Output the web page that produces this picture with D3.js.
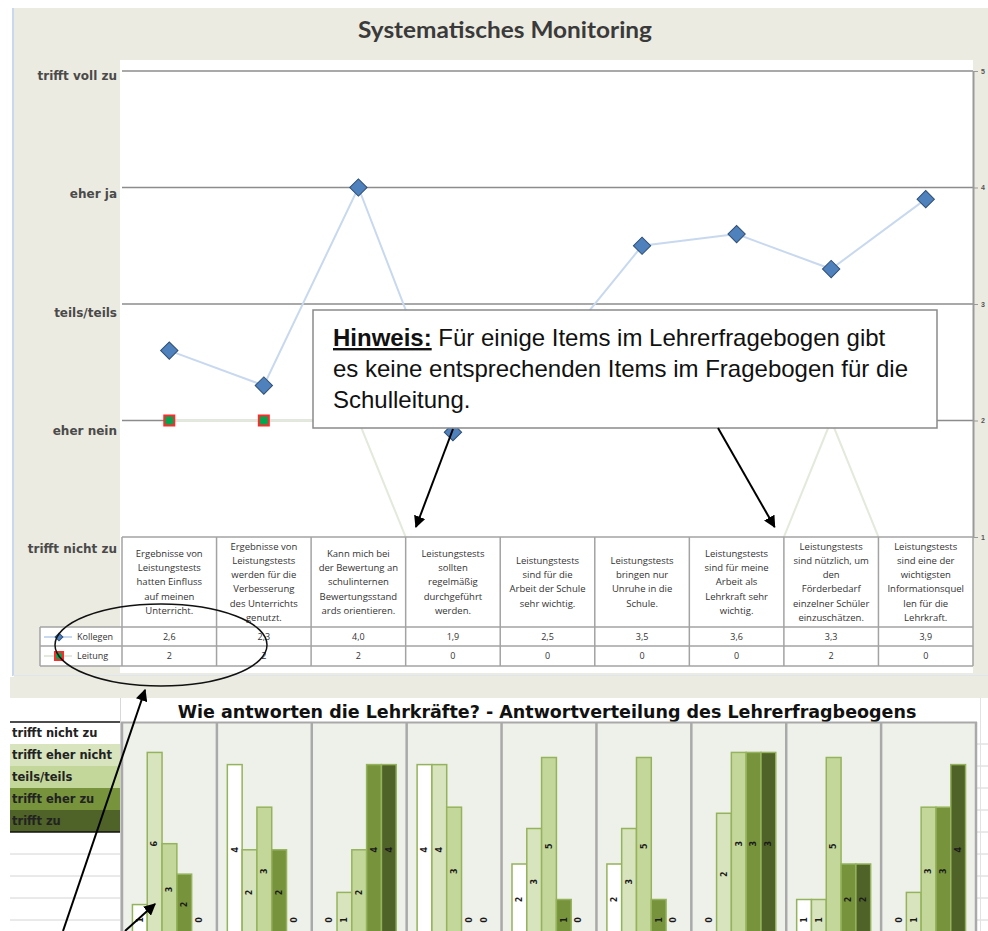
<!DOCTYPE html>
<html>
<head>
<meta charset="utf-8">
<script src="https://cdn.jsdelivr.net/npm/d3@7"></script>
<style>
body{margin:0;background:#fff;}
svg{display:block;}
</style>
</head>
<body>
<div id="chart"></div>
<script>
// ---- data ----
var itemLabels = [
    ["Ergebnisse von", "Leistungstests", "hatten Einfluss", "auf meinen", "Unterricht."],
    ["Ergebnisse von", "Leistungstests", "werden für die", "Verbesserung", "des Unterrichts", "genutzt."],
    ["Kann mich bei", "der Bewertung an", "schulinternen", "Bewertungsstand", "ards orientieren."],
    ["Leistungstests", "sollten", "regelmäßig", "durchgeführt", "werden."],
    ["Leistungstests", "sind für die", "Arbeit der Schule", "sehr wichtig."],
    ["Leistungstests", "bringen nur", "Unruhe in die", "Schule."],
    ["Leistungstests", "sind für meine", "Arbeit als", "Lehrkraft sehr", "wichtig."],
    ["Leistungstests", "sind nützlich, um", "den", "Förderbedarf", "einzelner Schüler", "einzuschätzen."],
    ["Leistungstests", "sind eine der", "wichtigsten", "Informationsquel", "len für die", "Lehrkraft."]
];
var kollegen = [2.6, 2.3, 4.0, 1.9, 2.5, 3.5, 3.6, 3.3, 3.9];
var leitung = [2, 2, 2, 0, 0, 0, 0, 2, 0];
var scaleValues = [1, 2, 3, 4, 5];
var scaleLabels = ["trifft nicht zu", "eher nein", "teils/teils", "eher ja", "trifft voll zu"];

var responseCats = ["trifft nicht zu", "trifft eher nicht", "teils/teils", "trifft eher zu", "trifft zu"];
var responseColors = ["#ffffff", "#d8e4bd", "#c4d79b", "#77933c", "#4f6228"];
var responseCounts = [
    [1, 6, 3, 2, 0],
    [4, 2, 3, 2, 0],
    [0, 1, 2, 4, 4],
    [4, 4, 3, 0, 0],
    [2, 3, 5, 1, 0],
    [2, 3, 5, 1, 0],
    [0, 2, 3, 3, 3],
    [1, 1, 5, 2, 2],
    [0, 1, 3, 3, 4]
];
var panelMax = [7, 5, 5, 5, 6, 6, 3.5, 6, 5];

var deFormat = function(v){ return d3.format(".1f")(v).replace(".", ","); };

// ---- svg ----
var svgwidth = 988, svgheight = 931;
var svg = d3.select("#chart").append("svg")
    .attr("width", svgwidth)
    .attr("height", svgheight);

// frame of the upper chart
svg.append("rect").attr("x", 14).attr("y", 8).attr("width", 974).attr("height", 690).style("fill", "#ecebe1");
svg.append("rect").attr("x", 10).attr("y", 677).attr("width", 4).attr("height", 21).style("fill", "#ecebe1");
svg.append("line").attr("x1", 13).attr("x2", 13).attr("y1", 8).attr("y2", 676)
    .style("stroke", "#c9d8ec").style("stroke-width", 2);
svg.append("line").attr("x1", 13).attr("x2", 988).attr("y1", 675.5).attr("y2", 675.5)
    .style("stroke", "#dde5ef").style("stroke-width", 1);
svg.append("rect").attr("x", 120).attr("y", 60).attr("width", 853).attr("height", 613).style("fill", "#fff");

svg.append("text")
    .attr("x", 505).attr("y", 38)
    .attr("text-anchor", "middle")
    .attr("textLength", 294).attr("lengthAdjust", "spacingAndGlyphs")
    .style("font-family", "Lato, sans-serif").style("font-weight", "bold")
    .style("font-size", "23px").style("fill", "#3a3a3a")
    .text("Systematisches Monitoring");

var xScale = d3.scaleBand().domain(d3.range(itemLabels.length)).range([122, 973]);
var yScale = d3.scaleLinear().domain([1, 5]).range([537, 71]);
var labelScale = d3.scaleLinear().domain([1, 5]).range([549, 76]);
var cx = function(i){ return xScale(i) + xScale.bandwidth() / 2; };

// gridlines
svg.selectAll(".grid").data(scaleValues.filter(function(v){ return v > 1; })).enter().append("line")
    .attr("class", "grid")
    .attr("x1", 122).attr("x2", 973)
    .attr("y1", function(d){ return yScale(d); })
    .attr("y2", function(d){ return yScale(d); })
    .style("stroke", "#8c8c8c").style("stroke-width", 1.5);

// right axis
const yAxis = d3.axisRight().scale(yScale).tickValues(scaleValues).tickFormat(d3.format("d")).tickSize(5).tickSizeOuter(0);
var ax = svg.append("g").call(yAxis).attr("transform", "translate(973,0)");
ax.select(".domain").style("stroke", "#9a9a9a").style("stroke-width", 2);
ax.selectAll("line").style("stroke", "#9a9a9a");
ax.selectAll("text").style("font-size", "7px").style("font-weight", "bold").style("fill", "#555").attr("x", 8);

// left labels
svg.selectAll(".ylab").data(scaleValues).enter().append("text")
    .attr("class", "ylab")
    .attr("x", 117)
    .attr("y", function(d){ return labelScale(d); })
    .attr("dy", "0.35em")
    .attr("text-anchor", "end")
    .style("font-family", "DejaVu Sans, sans-serif").style("font-weight", "bold")
    .style("font-size", "12px").style("fill", "#4a4a4a")
    .text(function(d, i){ return scaleLabels[i]; });

// lines (clipped to plot)
svg.append("clipPath").attr("id", "plotclip").append("rect")
    .attr("x", 122).attr("y", 60).attr("width", 851).attr("height", 477);
var plot = svg.append("g").attr("clip-path", "url(#plotclip)");

var line = d3.line()
    .x(function(d, i){ return cx(i); })
    .y(function(d){ return yScale(d); });

plot.append("path").datum(leitung).attr("d", line)
    .style("fill", "none").style("stroke", "#e3e9db").style("stroke-width", 2);
plot.append("path").datum(kollegen).attr("d", line)
    .style("fill", "none").style("stroke", "#c8d9ef").style("stroke-width", 2);

plot.selectAll(".sq").data(leitung).enter().append("rect")
    .attr("class", "sq")
    .attr("x", function(d, i){ return cx(i) - 5; })
    .attr("y", function(d){ return yScale(d) - 5; })
    .attr("width", 10).attr("height", 10)
    .style("fill", "#00a650").style("stroke", "#ff2a2a").style("stroke-width", 2);

plot.selectAll(".dia").data(kollegen).enter().append("path")
    .attr("class", "dia")
    .attr("d", d3.symbol().type(d3.symbolSquare).size(150))
    .attr("transform", function(d, i){ return "translate(" + cx(i) + "," + yScale(d) + ") rotate(45)"; })
    .style("fill", "#4f81bd").style("stroke", "#2f4f74").style("stroke-width", 1);

// data table
var tableTop = 537, headBottom = 627, row1 = 646, row2 = 666;
var tableLine = function(x1, x2, y1, y2){
    svg.append("line").attr("x1", x1).attr("x2", x2).attr("y1", y1).attr("y2", y2)
        .style("stroke", "#a3a3a3").style("stroke-width", 1.5);
};
svg.append("rect").attr("x", 40).attr("y", headBottom).attr("width", 82).attr("height", row2 - headBottom).style("fill", "#fff");
tableLine(122, 973, tableTop, tableTop);
tableLine(40, 973, headBottom, headBottom);
tableLine(40, 973, row1, row1);
tableLine(40, 973, row2, row2);
tableLine(40, 40, headBottom, row2);
d3.range(itemLabels.length + 1).forEach(function(i){
    var xx = i < itemLabels.length ? xScale(i) : 973;
    tableLine(xx, xx, tableTop, row2);
});

svg.selectAll(".head").data(itemLabels).enter().append("text")
    .attr("class", "head")
    .attr("text-anchor", "middle")
    .style("font-family", "Open Sans, sans-serif").style("font-size", "9.5px").style("fill", "#333")
    .each(function(lines, i){
        var t = d3.select(this);
        var y0 = 582 - (lines.length - 1) * 14.3 / 2;
        lines.forEach(function(s, k){
            t.append("tspan").attr("x", cx(i)).attr("y", y0 + k * 14.3).attr("dy", "0.35em").text(s);
        });
    });

svg.selectAll(".vk").data(kollegen).enter().append("text")
    .attr("class", "vk")
    .attr("x", function(d, i){ return cx(i); }).attr("y", 637).attr("dy", "0.35em")
    .attr("text-anchor", "middle")
    .style("font-family", "Open Sans, sans-serif").style("font-size", "9px").style("fill", "#333")
    .text(function(d){ return deFormat(d); });
svg.selectAll(".vl").data(leitung).enter().append("text")
    .attr("class", "vl")
    .attr("x", function(d, i){ return cx(i); }).attr("y", 656).attr("dy", "0.35em")
    .attr("text-anchor", "middle")
    .style("font-family", "Open Sans, sans-serif").style("font-size", "9px").style("fill", "#333")
    .text(function(d){ return d; });

// legend keys in table
svg.append("line").attr("x1", 44).attr("x2", 72).attr("y1", 637).attr("y2", 637).style("stroke", "#c8d9ef").style("stroke-width", 2);
svg.append("path").attr("d", d3.symbol().type(d3.symbolSquare).size(30))
    .attr("transform", "translate(59,637) rotate(45)").style("fill", "#4f81bd").style("stroke", "#2f4f74");
svg.append("line").attr("x1", 44).attr("x2", 72).attr("y1", 656).attr("y2", 656).style("stroke", "#e3e9db").style("stroke-width", 2);
svg.append("rect").attr("x", 55).attr("y", 652).attr("width", 8).attr("height", 8)
    .style("fill", "#00a650").style("stroke", "#ff2a2a").style("stroke-width", 2);
svg.append("text").attr("x", 77).attr("y", 637).attr("dy", "0.35em")
    .style("font-family", "Open Sans, sans-serif").style("font-size", "9px").style("fill", "#333").text("Kollegen");
svg.append("text").attr("x", 77).attr("y", 656).attr("dy", "0.35em")
    .style("font-family", "Open Sans, sans-serif").style("font-size", "9px").style("fill", "#333").text("Leitung");

// note box
svg.append("rect").attr("x", 313).attr("y", 310).attr("width", 624).attr("height", 118)
    .style("fill", "#fff").style("stroke", "#8a8a8a").style("stroke-width", 1.5);
var note = svg.append("text")
    .style("font-family", "Liberation Sans, Arial, sans-serif").style("font-size", "24px").style("fill", "#111");
var l1 = note.append("tspan").attr("x", 333).attr("y", 346);
l1.append("tspan").style("font-weight", "bold").style("text-decoration", "underline").text("Hinweis:");
l1.append("tspan").text(" Für einige Items im Lehrerfragebogen gibt");
note.append("tspan").attr("x", 333).attr("y", 377).text("es keine entsprechenden Items im Fragebogen für die");
note.append("tspan").attr("x", 333).attr("y", 408).text("Schulleitung.");

// arrows & ellipse
svg.append("defs").append("marker")
    .attr("id", "head").attr("viewBox", "0 0 10 10").attr("refX", 9).attr("refY", 5)
    .attr("markerWidth", 6).attr("markerHeight", 6).attr("markerUnits", "strokeWidth")
    .attr("orient", "auto")
    .append("path").attr("d", "M0,0 L10,5 L0,10 z").style("fill", "#000");
var arrow = function(x1, y1, x2, y2){
    svg.append("line").attr("x1", x1).attr("y1", y1).attr("x2", x2).attr("y2", y2)
        .style("stroke", "#000").style("stroke-width", 2).attr("marker-end", "url(#head)");
};
arrow(453, 429, cx(3) - 37, 527);
arrow(718, 428, cx(6) + 38, 527);

svg.append("ellipse").attr("cx", 161).attr("cy", 645).attr("rx", 106).attr("ry", 41)
    .style("fill", "none").style("stroke", "#111").style("stroke-width", 1.5);

// ---- lower chart ----
svg.append("text")
    .attr("x", 547).attr("y", 718)
    .attr("text-anchor", "middle")
    .style("font-family", "DejaVu Sans, sans-serif").style("font-weight", "bold")
    .style("font-size", "17.5px").style("fill", "#111")
    .text("Wie antworten die Lehrkräfte? - Antwortverteilung des Lehrerfragbeogens");

// spreadsheet rows left and right
var sheetRows = d3.range(4).map(function(k){ return 854 + k * 22; });
svg.selectAll(".srow").data(sheetRows).enter().append("line")
    .attr("class", "srow")
    .attr("x1", 10).attr("x2", 120)
    .attr("y1", function(d){ return d; }).attr("y2", function(d){ return d; })
    .style("stroke", "#d4d4d4");
var rightRows = d3.range(9).map(function(k){ return 744 + k * 22; });
svg.selectAll(".rrow").data(rightRows).enter().append("line")
    .attr("class", "rrow")
    .attr("x1", 977).attr("x2", 988)
    .attr("y1", function(d){ return d; }).attr("y2", function(d){ return d; })
    .style("stroke", "#d4d4d4");
svg.append("line").attr("x1", 120.5).attr("x2", 120.5).attr("y1", 698).attr("y2", 931).style("stroke", "#d8d8d8");
svg.append("line").attr("x1", 980.5).attr("x2", 980.5).attr("y1", 698).attr("y2", 931).style("stroke", "#e2e2e2");

// legend table
svg.selectAll(".leg").data(responseCats).enter().append("rect")
    .attr("class", "leg")
    .attr("x", 10).attr("y", function(d, i){ return 722 + i * 22; })
    .attr("width", 110).attr("height", 22)
    .style("fill", function(d, i){ return responseColors[i]; });
svg.selectAll(".legt").data(responseCats).enter().append("text")
    .attr("class", "legt")
    .attr("x", 12).attr("y", function(d, i){ return 733 + i * 22; }).attr("dy", "0.35em")
    .style("font-family", "DejaVu Sans, sans-serif").style("font-weight", "bold")
    .style("font-size", "11.5px").style("fill", "#222")
    .text(function(d){ return d; });
svg.append("line").attr("x1", 10).attr("x2", 120).attr("y1", 722).attr("y2", 722).style("stroke", "#111").style("stroke-width", 1.5);
svg.append("line").attr("x1", 10).attr("x2", 120).attr("y1", 832).attr("y2", 832).style("stroke", "#111").style("stroke-width", 1.5);

// panels
var xPanel = d3.scaleBand().domain(d3.range(responseCounts.length)).range([122, 976]);
var inner = d3.scaleBand().domain(d3.range(responseCats.length)).range([-37, 37]);

svg.selectAll(".panel").data(responseCounts).enter().append("rect")
    .attr("class", "panel")
    .attr("x", function(d, i){ return xPanel(i); }).attr("y", 722)
    .attr("width", xPanel.bandwidth()).attr("height", 209)
    .style("fill", "#eef1e9");

var panels = svg.selectAll(".pg").data(responseCounts).enter().append("g")
    .attr("class", "pg")
    .attr("transform", function(d, i){ return "translate(" + (xPanel(i) + xPanel.bandwidth() / 2) + ",0)"; });

panels.each(function(counts, p){
    var g = d3.select(this);
    var yb = d3.scaleLinear().domain([0, panelMax[p]]).range([935, 722]);
    g.selectAll("rect").data(counts).enter().append("rect")
        .attr("x", function(d, i){ return inner(i); })
        .attr("y", function(d){ return yb(d); })
        .attr("width", inner.bandwidth())
        .attr("height", function(d){ return yb(0) - yb(d); })
        .style("fill", function(d, i){ return responseColors[i]; })
        .style("stroke", "#95b35c").style("stroke-width", 1.5);
    g.selectAll("text").data(counts).enter().append("text")
        .attr("transform", function(d, i){
            var yy = d > 1 ? (yb(d) + yb(0)) / 2 : yb(0) - 15;
            return "translate(" + (inner(i) + inner.bandwidth() / 2) + "," + yy + ") rotate(-90)";
        })
        .attr("text-anchor", "middle").attr("dy", "0.35em")
        .style("font-family", "DejaVu Sans, sans-serif").style("font-weight", "bold")
        .style("font-size", "8px").style("fill", "#1a1a1a")
        .text(function(d){ return d; });
});

// panel separators
svg.selectAll(".sep").data(d3.range(responseCounts.length + 1)).enter().append("line")
    .attr("class", "sep")
    .attr("x1", function(d){ return d < responseCounts.length ? xPanel(d) : 976; })
    .attr("x2", function(d){ return d < responseCounts.length ? xPanel(d) : 976; })
    .attr("y1", 722).attr("y2", 931)
    .style("stroke", "#a9a9a9").style("stroke-width", 2.5);
svg.append("line").attr("x1", 121).attr("x2", 977).attr("y1", 722.5).attr("y2", 722.5)
    .style("stroke", "#a9a9a9").style("stroke-width", 2);

// lower arrows
arrow(63, 931, 145, 690);
arrow(125, 931, 155, 904);
</script>
</body>
</html>
